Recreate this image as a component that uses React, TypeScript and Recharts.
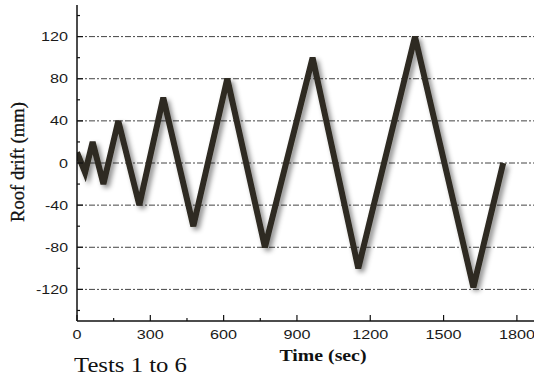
import { LineChart, Line, XAxis, YAxis, ReferenceLine, Label } from "recharts";

const timeSec = [0, 33, 64, 108, 169, 255, 353, 476, 615, 769, 964, 1151, 1383, 1622, 1744];
const roofDrift = [10, -9, 20, -20, 40, -40, 62, -60, 80, -80, 100, -100, 120, -118, 0];

const xTicks = [0, 150, 300, 450, 600, 750, 900, 1050, 1200, 1350, 1500, 1650, 1800];
const yTicks = [-140, -120, -100, -80, -60, -40, -20, 0, 20, 40, 60, 80, 100, 120, 140];
const gridValues = [-120, -80, -40, 0, 40, 80, 120];

const data = timeSec.map((t, i) => ({ t, drift: roofDrift[i] }));

const labelWidth = (s: string) => {
  let w = 0;
  for (const c of s) w += c === "-" ? 5 : 9;
  return w;
};

const XTick = (props: any) => {
  const { x, y, payload } = props;
  const v = Number(payload.value);
  const major = Math.abs(v % 300) < 1e-6;
  const axisY = y - 10;
  const s = String(v);
  return (
    <g>
      <line x1={x} x2={x} y1={axisY} y2={axisY - (major ? 6 : 3)} stroke="#111" strokeWidth={1.2} />
      {major && (
        <text x={x} y={axisY + 18} textAnchor="middle" fontSize={12.5} fontFamily="Liberation Sans, Arial" fill="#1a1a1a"
          textLength={labelWidth(s)} lengthAdjust="spacingAndGlyphs">
          {s}
        </text>
      )}
    </g>
  );
};

const TopTick = (props: any) => {
  const { x, y, payload } = props;
  const major = Math.abs(Number(payload.value) % 300) < 1e-6;
  return <line x1={x} x2={x} y1={y} y2={y + (major ? 6 : 3)} stroke="#111" strokeWidth={1.2} />;
};

const YTick = (props: any) => {
  const { y, payload } = props;
  const v = Number(payload.value);
  const major = Math.abs(v % 40) < 1e-6;
  const axisX = 77;
  const s = String(v);
  const w = labelWidth(s);
  return (
    <g>
      <line x1={axisX} x2={axisX + (major ? 6 : 3)} y1={y} y2={y} stroke="#111" strokeWidth={1.2} />
      {major && (
        <text x={axisX - 9 - w} y={y + 4.5} textAnchor="start" fontSize={12} fontFamily="Liberation Sans, Arial" fill="#1a1a1a"
          textLength={w} lengthAdjust="spacingAndGlyphs">
          {s}
        </text>
      )}
    </g>
  );
};

export default function App() {
  return (
    <div style={{ position: "absolute", left: 0, top: 0, background: "#fff" }}>
      <LineChart width={534} height={377} data={data} margin={{ top: 5, right: 0, bottom: 0, left: 0 }}>
        <defs>
          <filter id="lineShadow" x="-10%" y="-10%" width="130%" height="130%">
            <feDropShadow dx={3} dy={3} stdDeviation={2.5} floodColor="#000" floodOpacity={0.45} />
          </filter>
        </defs>
        <XAxis
          dataKey="t"
          type="number"
          domain={[0, 1870]}
          ticks={xTicks}
          height={56}
          tickSize={0}
          tickMargin={10}
          tick={XTick}
          axisLine={{ stroke: "#111", strokeWidth: 1.5 }}
          allowDataOverflow
        >
          <Label
            content={() => (
              <text x={323} y={361} textAnchor="middle" fontSize={17} fontWeight="bold" fontFamily="Liberation Serif, Times New Roman"
                fill="#111" textLength={87} lengthAdjust="spacingAndGlyphs">
                Time (sec)
              </text>
            )}
          />
          <Label
            content={() => (
              <text x={74} y={372} fontSize={20} fontFamily="Liberation Serif, Times New Roman" fill="#111"
                textLength={113} lengthAdjust="spacingAndGlyphs">
                Tests 1 to 6
              </text>
            )}
          />
        </XAxis>
        <XAxis
          xAxisId="top"
          dataKey="t"
          type="number"
          orientation="top"
          domain={[0, 1870]}
          ticks={xTicks}
          height={0}
          tickSize={0}
          tickMargin={0}
          tick={TopTick}
          axisLine={{ stroke: "#111", strokeWidth: 1.5 }}
          allowDataOverflow
        />
        <YAxis
          type="number"
          domain={[-150, 150]}
          ticks={yTicks}
          width={77}
          tickSize={0}
          tickMargin={9}
          tick={YTick}
          interval={0}
          axisLine={{ stroke: "#111", strokeWidth: 1.5 }}
          allowDataOverflow
        >
          <Label
            content={() => (
              <text x={24} y={162} transform="rotate(-90 24 162)" textAnchor="middle" fontSize={18}
                fontFamily="Liberation Serif, Times New Roman" fill="#111" stroke="#111" strokeWidth={0.3}
                textLength={120} lengthAdjust="spacingAndGlyphs">
                Roof drift (mm)
              </text>
            )}
          />
        </YAxis>
        {gridValues.map((v) => (
          <ReferenceLine key={v} y={v} stroke="#444" strokeWidth={1} strokeDasharray="6 2 2 2" />
        ))}
        <Line
          type="linear"
          dataKey="drift"
          stroke="#2e2a20"
          strokeWidth={6}
          strokeLinejoin="miter"
          strokeMiterlimit={4}
          dot={false}
          filter="url(#lineShadow)"
          isAnimationActive={false}
        />
      </LineChart>
    </div>
  );
}
